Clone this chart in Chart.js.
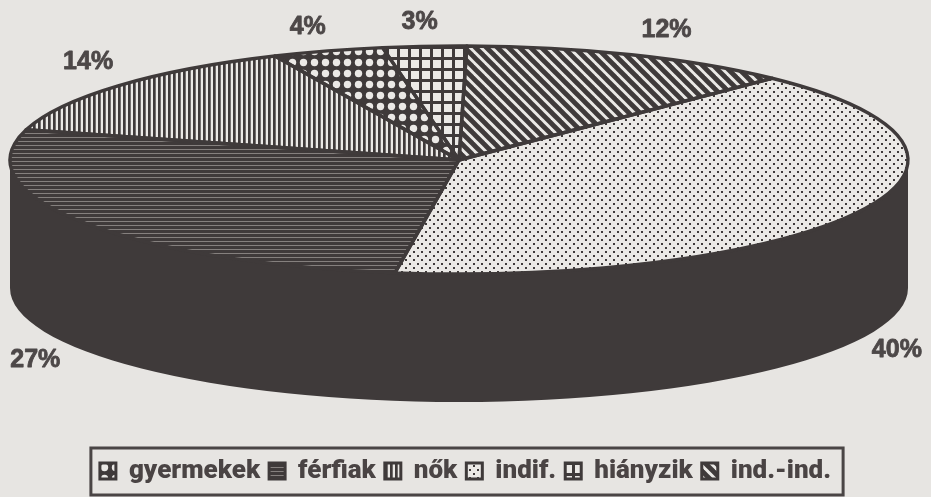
<!DOCTYPE html>
<html>
<head>
<meta charset="utf-8">
<title>Pie</title>
<script src="https://cdn.jsdelivr.net/npm/chart.js@4"></script>
<style>
  html, body { margin: 0; padding: 0; background: #e7e5e2; }
  canvas { display: block; }
</style>
</head>
<body>
<canvas id="pie" width="931" height="497"></canvas>
<script>
// slices in clockwise order from the top
const categories = ['ind.-ind.', 'indif.', 'férfiak', 'nők', 'gyermekek', 'hiányzik'];
const shares = [12, 40, 27, 14, 4, 3];
const percentLabels = ['12%', '40%', '27%', '14%', '4%', '3%'];
// legend reads in another order than the slices
const legendOrder = ['gyermekek', 'férfiak', 'nők', 'indif.', 'hiányzik', 'ind.-ind.'];
const fillKinds = ['diagonal', 'dots', 'horizontal', 'vertical', 'spots', 'grid'];

const INK = '#3f3a3a';
const PAPER = '#ebe9e6';
// flattened disc on the page
const DISC = { x: 459, y: 160, rx: 449, ry: 114, depth: 128 };
// label shift from the slice's outer edge
const labelShift = [[35, -25], [35, 140], [-48, 138], [-30, -24], [-20, -24], [-5, -24]];

function patternTile(kind) {
    const c = document.createElement('canvas');
    const sizes = { diagonal: 11, dots: 8, horizontal: 4, vertical: 5, spots: 11, grid: 11 };
    c.width = c.height = sizes[kind];
    const g = c.getContext('2d');
    const s = sizes[kind];
    g.fillStyle = PAPER;
    g.fillRect(0, 0, s, s);
    g.fillStyle = INK;
    g.strokeStyle = INK;
    if (kind === 'horizontal') {
        g.fillRect(0, 0, s, s);
        g.fillStyle = '#85807e';
        g.fillRect(0, 3, s, 1);
    } else if (kind === 'vertical') {
        g.fillRect(0, 0, 2.7, s);
    } else if (kind === 'grid') {
        g.fillRect(0, 0, s, 3);
        g.fillRect(0, 0, 3, s);
    } else if (kind === 'dots') {
        g.fillRect(1, 1, 2, 2);
        g.fillRect(5, 5, 2, 2);
    } else if (kind === 'diagonal') {
        g.lineWidth = 4.8;
        [-s, 0, s].forEach(o => {
            g.beginPath();
            g.moveTo(o - 3, -3);
            g.lineTo(o + s + 3, s + 3);
            g.stroke();
        });
    } else if (kind === 'spots') {
        g.fillRect(0, 0, s, s);
        g.fillStyle = PAPER;
        g.beginPath();
        g.arc(s / 2, s / 2, 3.7, 0, Math.PI * 2);
        g.fill();
    }
    return c;
}

const scratch = document.createElement('canvas').getContext('2d');
const slicePatterns = fillKinds.map(k => scratch.createPattern(patternTile(k), 'repeat'));
const legendPatterns = fillKinds.map(k => scratch.createPattern(patternTile(k), 'repeat'));

// squash the round pie into the disc, with its rim below
const discPlugin = {
    id: 'disc',
    beforeDatasetsDraw(chart) {
        const ctx = chart.ctx;
        const first = chart.getDatasetMeta(0).data[0];
        const r = first.outerRadius;
        const sx = DISC.rx / r, sy = DISC.ry / r;

        // rim
        ctx.save();
        ctx.fillStyle = INK;
        ctx.beginPath();
        ctx.ellipse(DISC.x, DISC.y + DISC.depth, DISC.rx, DISC.ry, 0, 0, Math.PI * 2);
        ctx.rect(DISC.x - DISC.rx, DISC.y, DISC.rx * 2, DISC.depth);
        ctx.fill('nonzero');
        ctx.beginPath();
        ctx.ellipse(DISC.x, DISC.y, DISC.rx, DISC.ry, 0, 0, Math.PI * 2);
        ctx.fill();
        ctx.restore();

        // keep the hatching at page scale
        slicePatterns.forEach(p => p.setTransform(new DOMMatrix().scale(1 / sx, 1 / sy)));

        ctx.save();
        ctx.translate(DISC.x, DISC.y);
        ctx.scale(sx, sy);
        ctx.translate(-first.x, -first.y);
    },
    afterDatasetsDraw(chart) {
        const ctx = chart.ctx;
        ctx.restore();

        const arcs = chart.getDatasetMeta(0).data;
        const r = arcs[0].outerRadius;
        const sx = DISC.rx / r, sy = DISC.ry / r;

        // outlines drawn on the page so they keep one width
        ctx.save();
        ctx.strokeStyle = INK;
        ctx.lineWidth = 3.4;
        ctx.lineJoin = 'round';
        arcs.forEach(a => {
            ctx.save();
            ctx.translate(DISC.x, DISC.y);
            ctx.scale(sx, sy);
            ctx.beginPath();
            ctx.moveTo(0, 0);
            ctx.arc(0, 0, r, a.startAngle, a.endAngle);
            ctx.closePath();
            ctx.restore();
            ctx.stroke();
        });

        // percent labels
        ctx.fillStyle = '#4d4848';
        ctx.strokeStyle = '#4d4848';
        ctx.lineWidth = 0.8;
        ctx.font = 'bold 25px "Liberation Sans", Arial, sans-serif';
        ctx.textAlign = 'center';
        ctx.textBaseline = 'middle';
        arcs.forEach((a, i) => {
            const mid = (a.startAngle + a.endAngle) / 2;
            const x = DISC.x + DISC.rx * Math.cos(mid) + labelShift[i][0];
            const y = DISC.y + DISC.ry * Math.sin(mid) + labelShift[i][1];
            ctx.fillText(percentLabels[i], x, y);
            ctx.strokeText(percentLabels[i], x, y);
        });
        ctx.restore();
    },
    afterDraw(chart) {
        // frame round the legend
        const boxes = chart.legend.legendHitBoxes;
        const left = Math.min(...boxes.map(b => b.left)) - 9;
        const right = Math.max(...boxes.map(b => b.left + b.width)) + 12;
        const ctx = chart.ctx;
        ctx.save();
        ctx.strokeStyle = '#4a4545';
        ctx.lineWidth = 3;
        ctx.strokeRect(left, chart.legend.top - 1, right - left, chart.legend.height + 2);
        ctx.restore();
    }
};

new Chart(document.getElementById('pie').getContext('2d'), {
    type: 'pie',
    data: {
        labels: categories,
        datasets: [{
            data: shares,
            backgroundColor: slicePatterns,
            borderWidth: 0,
            hoverOffset: 0,
            clip: false
        }]
    },
    options: {
        responsive: false,
        animation: false,
        rotation: 1,
        events: [],
        layout: { padding: { bottom: 3 } },
        plugins: {
            tooltip: { enabled: false },
            legend: {
                position: 'bottom',
                labels: {
                    boxWidth: 16,
                    boxHeight: 16,
                    padding: 9,
                    color: '#4a4444',
                    font: { family: 'Roboto, "Liberation Sans", sans-serif', size: 26, weight: '900' },
                    generateLabels(chart) {
                        const items = Chart.overrides.pie.plugins.legend.labels.generateLabels(chart);
                        items.forEach(item => {
                            item.fillStyle = legendPatterns[item.index];
                            item.strokeStyle = INK;
                            item.lineWidth = 3;
                        });
                        return items;
                    },
                    sort: (a, b) => legendOrder.indexOf(a.text) - legendOrder.indexOf(b.text)
                }
            }
        }
    },
    plugins: [discPlugin]
});
</script>
</body>
</html>
